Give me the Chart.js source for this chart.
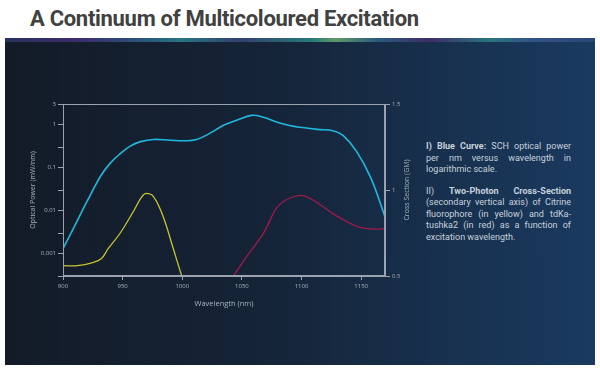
<!DOCTYPE html>
<html>
<head>
<meta charset="utf-8">
<script src="https://cdn.jsdelivr.net/npm/chart.js@4"></script>
<style>
  html, body { margin: 0; padding: 0; background: #fff; }
  body { width: 600px; height: 369px; position: relative; overflow: hidden; font-family: "Open Sans", sans-serif; }
  #title { position: absolute; left: 30px; top: 6px; margin: 0; font-family: Roboto, sans-serif; font-size: 22px; font-weight: 700; color: #414141; letter-spacing: -0.3px; }
  #panel { position: absolute; left: 5px; top: 38px; width: 590px; height: 327px;
    background: linear-gradient(90deg, #131b27 0%, #152438 45%, #183352 80%, #1a3a60 100%); }
  #strip { position: absolute; left: 0; top: 0; width: 100%; height: 4px;
    background: linear-gradient(90deg, #26335e 0%, #3e2a6a 12%, #2b4f7a 22%, #26767e 30%, #33406e 40%, #267a78 52%, #5f9a66 56%, #2a5c7e 63%, #3e2c6a 72%, #28767c 82%, #34508a 90%, #2a4674 100%); }
  #chartBox { position: absolute; left: 20px; top: 95px; width: 400px; height: 220px; }
  #notes { position: absolute; left: 426px; top: 141px; width: 145px; font-family: Roboto, sans-serif; font-size: 9px; line-height: 11.5px; color: #c9d1db; }
  #notes .ln { text-align: justify; text-align-last: justify; white-space: nowrap; }
  #notes .end { text-align: left; text-align-last: left; }
  #notes .gap { height: 10px; }
</style>
</head>
<body>
<h1 id="title">A Continuum of Multicoloured Excitation</h1>
<div id="panel"><div id="strip"></div></div>
<div id="chartBox"><canvas id="chart"></canvas></div>
<div id="notes">
  <div class="ln"><b>I) Blue Curve:</b> SCH optical power</div>
  <div class="ln">per nm versus wavelength in</div>
  <div class="ln end">logarithmic scale.</div>
  <div class="gap"></div>
  <div class="ln">II) <b>Two-Photon Cross-Section</b></div>
  <div class="ln">(secondary vertical axis) of Citrine</div>
  <div class="ln">fluorophore (in yellow) and tdKa-</div>
  <div class="ln">tushka2 (in red) as a function of</div>
  <div class="ln end">excitation wavelength.</div>
</div>
<script>
// SCH optical power (mW/nm), log axis
const blueWl = [900, 910, 920, 932, 940, 948, 956, 965, 976, 990, 1004, 1012, 1020, 1028, 1035, 1046, 1058, 1068, 1079, 1090, 1099, 1113, 1127, 1135, 1146, 1158, 1170];
const blueVals = [0.0013, 0.0045, 0.016, 0.066, 0.13, 0.21, 0.31, 0.40, 0.45, 0.43, 0.42, 0.45, 0.56, 0.75, 0.97, 1.27, 1.63, 1.47, 1.15, 0.95, 0.86, 0.77, 0.71, 0.55, 0.24, 0.058, 0.0072];

// Citrine cross section (GM), right axis
const yellowWl = [900, 912, 925, 932, 938, 948, 959, 966, 970, 976, 984, 992, 1000, 1008];
const yellowVals = [0.56, 0.56, 0.578, 0.60, 0.66, 0.75, 0.875, 0.96, 0.98, 0.96, 0.845, 0.67, 0.49, 0.32];

// tdKatushka2 cross section (GM), right axis
const redWl = [1035, 1043, 1054, 1068, 1079, 1088, 1099, 1107, 1116, 1127, 1138, 1149, 1160, 1170];
const redVals = [0.39, 0.50, 0.612, 0.748, 0.894, 0.946, 0.969, 0.952, 0.913, 0.86, 0.816, 0.783, 0.773, 0.775];

const xTicks = [900, 950, 1000, 1050, 1100, 1150];
const leftTicks = [0.0003, 0.001, 0.003, 0.01, 0.03, 0.1, 0.3, 1, 3];
const leftLabelled = [0.001, 0.01, 0.1, 1, 3];
const rightTicks = [0.5, 1, 1.5];

const toPts = (xs, ys) => xs.map((x, i) => ({ x: x, y: ys[i] }));

const tickFont = { family: 'Open Sans', size: 6 };
const tickColor = '#a9b2be';
const lineColor = '#9aa3af';

const frame = {
  id: 'frame',
  afterDraw(chart) {
    const { ctx, chartArea: a } = chart;
    ctx.save();
    ctx.strokeStyle = lineColor;
    ctx.lineWidth = 1;
    ctx.strokeRect(a.left + 0.5, a.top + 0.5, a.right - a.left - 1, a.bottom - a.top - 1);
    // right axis title, reading bottom to top
    ctx.fillStyle = '#a9b2be';
    ctx.font = '7px "Open Sans"';
    ctx.textAlign = 'center';
    ctx.textBaseline = 'middle';
    ctx.translate(chart.width - 13, (a.top + a.bottom) / 2);
    ctx.rotate(-Math.PI / 2);
    ctx.fillText('Cross Section (GM)', 0, 0);
    ctx.restore();
  }
};

new Chart(document.getElementById('chart'), {
  type: 'line',
  data: {
    datasets: [
      { data: toPts(blueWl, blueVals), yAxisID: 'y', borderColor: '#20b8de', borderWidth: 1.6, tension: 0.4, pointRadius: 0 },
      { data: toPts(yellowWl, yellowVals), yAxisID: 'y2', borderColor: '#c8c42c', borderWidth: 1.3, tension: 0.4, pointRadius: 0 },
      { data: toPts(redWl, redVals), yAxisID: 'y2', borderColor: '#a3184b', borderWidth: 1.3, tension: 0.4, pointRadius: 0 }
    ]
  },
  options: {
    responsive: true,
    maintainAspectRatio: false,
    animation: false,
    layout: { padding: { top: 9, left: 0, right: 0, bottom: 0 } },
    plugins: { legend: { display: false }, tooltip: { enabled: false } },
    scales: {
      x: {
        type: 'linear', min: 900, max: 1170,
        afterBuildTicks: s => { s.ticks = xTicks.map(v => ({ value: v })); },
        afterFit: s => { s.height = 39; },
        grid: { drawOnChartArea: false, tickLength: 4, color: lineColor },
        border: { color: lineColor },
        ticks: { color: tickColor, font: tickFont, padding: 3, maxRotation: 0, autoSkip: false, callback: v => String(v) },
        title: { display: true, text: 'Wavelength (nm)', color: '#a9b2be', font: { family: 'Open Sans', size: 7.5 }, padding: { top: 0, bottom: 7 } }
      },
      y: {
        type: 'logarithmic', position: 'left', min: 0.0003, max: 3,
        afterBuildTicks: s => { s.ticks = leftTicks.map(v => ({ value: v })); },
        afterFit: s => { s.width = 43; },
        grid: { drawOnChartArea: false, tickLength: 5, color: lineColor },
        border: { color: lineColor },
        ticks: { color: tickColor, font: tickFont, padding: 2, autoSkip: false, callback: v => leftLabelled.includes(v) ? String(v) : '' },
        title: { display: true, text: 'Optical Power (mW/nm)', color: '#a9b2be', font: { family: 'Open Sans', size: 7 }, padding: { top: 8.5, bottom: 0 } }
      },
      y2: {
        type: 'linear', position: 'right', min: 0.5, max: 1.5,
        afterBuildTicks: s => { s.ticks = rightTicks.map(v => ({ value: v })); },
        afterFit: s => { s.width = 35; },
        grid: { drawOnChartArea: false, tickLength: 5, color: lineColor },
        border: { color: lineColor },
        ticks: { color: tickColor, font: tickFont, padding: 2, autoSkip: false, callback: v => String(v) }
      }
    }
  },
  plugins: [frame]
});
</script>
</body>
</html>
